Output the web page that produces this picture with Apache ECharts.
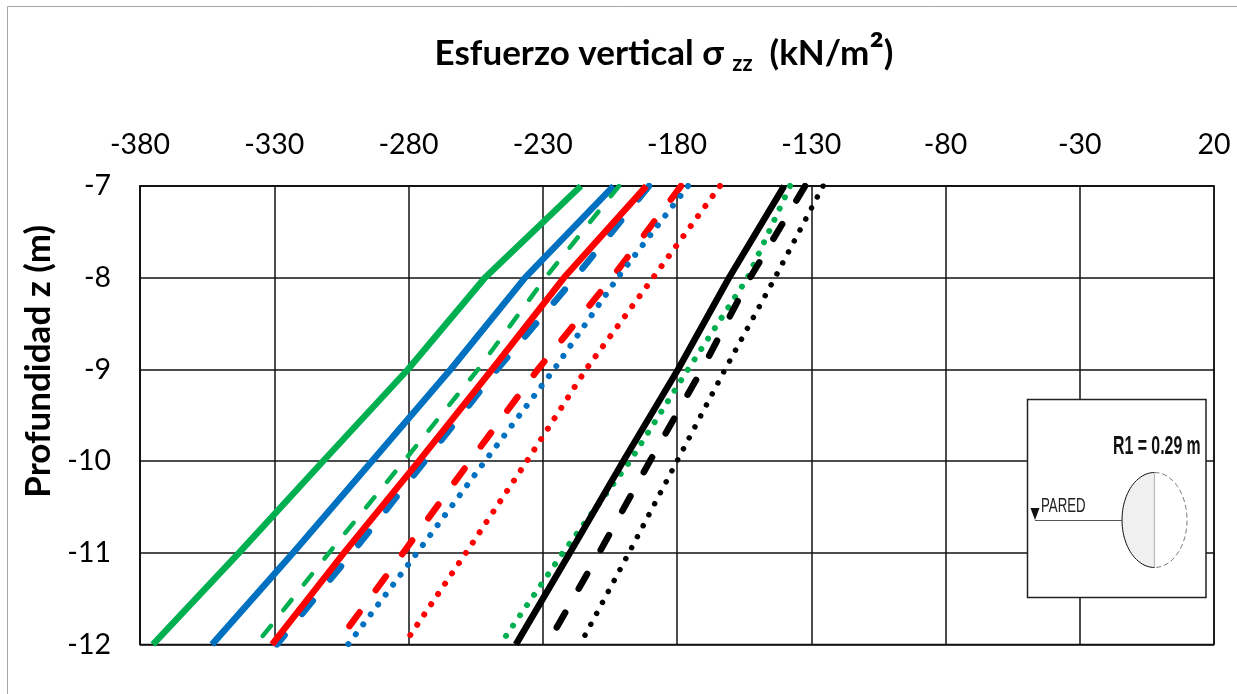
<!DOCTYPE html>
<html>
<head>
<meta charset="utf-8">
<style>html,body{margin:0;padding:0;background:#fff}#c{width:1237px;height:694px}</style>
<script src="https://cdn.jsdelivr.net/npm/echarts@6/dist/echarts.min.js"></script>
</head>
<body>
<div id="c"></div>
<script>
const depths = [-7, -8, -9, -10, -11, -12];
const xTicks = [-380, -330, -280, -230, -180, -130, -80, -30, 20];
const greenSolid = [-215.8, -251.5, -280.2, -311.8, -343.1, -375.2];
const blueSolid = [-203.6, -236.6, -264.3, -293.6, -323.0, -353.2];
const greenDash = [-201.6, -229.0, -254.1, -281.7, -309.6, -336.8];
const blueDash = [-190.4, -218.0, -247.0, -273.9, -301.0, -329.0];
const redSolid = [-191.4, -222.1, -248.9, -276.1, -304.0, -330.8];
const redDash = [-178.5, -204.2, -231.8, -257.1, -282.0, -307.0];
const blueDot = [-175.9, -202.1, -225.8, -251.5, -276.8, -302.5];
const redDot = [-164.0, -188.9, -213.9, -235.9, -258.6, -281.7];
const greenDot = [-137.9, -153.7, -175.9, -197.5, -222.5, -245.9];
const blackSolid = [-140.1, -160.6, -179.6, -200.0, -219.9, -240.0];
const blackDash = [-132.3, -152.8, -170.7, -190.1, -209.0, -228.4];
const blackDot = [-125.6, -143.5, -162.1, -180.0, -197.9, -216.1];

const FONT = 'Lato';
const GREEN = '#00B050', BLUE = '#0070C0', RED = '#FF0000', BLACK = '#000000';
const DASH = [17, 27.5], GDASH = [13, 20], DOT = [0.01, 12.39];

function line(name, vals, color, width, dash) {
  return {
    name, type: 'line', symbol: 'none', silent: true, animation: false,
    data: vals.map((v, i) => [v, depths[i]]),
    lineStyle: { color, width, type: dash || 'solid', cap: dash ? 'round' : 'butt', join: 'round' }
  };
}
function halfEllipse(cx, cy, rx, ry, from, to) {
  const p = [];
  for (let i = 0; i <= 48; i++) {
    const a = (from + (to - from) * i / 48) * Math.PI / 180;
    p.push([cx + rx * Math.cos(a), cy + ry * Math.sin(a)]);
  }
  return p;
}
const cx = 1154.5, cy = 520, rx = 32.5, ry = 47.5;

const chart = echarts.init(document.getElementById('c'), null, { renderer: 'canvas' });
chart.setOption({
  backgroundColor: '#fff',
  animation: false,
  title: {
    left: 659, top: 27, textAlign: 'center',
    text: 'Esfuerzo vertical σ {s|zz}  (kN/m{b|²})',
    textStyle: {
      fontFamily: FONT, fontWeight: 'bold', fontSize: 35, color: '#000',
      rich: {
        s: { fontFamily: FONT, fontWeight: 'bold', fontSize: 22, color: '#000', verticalAlign: 'bottom', padding: [10, 0, 0, 0] },
        b: { fontFamily: FONT, fontWeight: 'bold', fontSize: 43, color: '#000', verticalAlign: 'top', padding: [0, 0, 0, 0] }
      }
    }
  },
  grid: { left: 140, right: 23, top: 186, bottom: 49.5, show: true, borderColor: '#111', borderWidth: 1.5, backgroundColor: '#fff', outerBoundsMode: 'none' },
  xAxis: {
    type: 'value', position: 'top', min: -380, max: 20,
    axisLine: { show: true, onZero: false, lineStyle: { color: '#111', width: 1.5 } },
    axisTick: { show: false, customValues: xTicks },
    axisLabel: { customValues: xTicks, fontFamily: FONT, fontSize: 28.5, color: '#000', margin: 27, showMinLabel: true, showMaxLabel: true },
    splitLine: { show: true, lineStyle: { color: '#111', width: 1.5 } }
  },
  yAxis: {
    type: 'value', min: -12, max: -7, interval: 1,
    name: 'Profundidad z (m)', nameLocation: 'middle', nameGap: 65, nameRotate: 90,
    nameTextStyle: { fontFamily: FONT, fontWeight: 'bold', fontSize: 35, color: '#000', padding: [0, 0, 0, 108] },
    axisLine: { show: true, onZero: false, lineStyle: { color: '#111', width: 1.5 } },
    axisTick: { show: false },
    axisLabel: { fontFamily: FONT, fontSize: 28.5, color: '#000', margin: 29 },
    splitLine: { show: true, lineStyle: { color: '#111', width: 1.5 } }
  },
  series: [
    line('Verde continua', greenSolid, GREEN, 6.5),
    line('Azul continua', blueSolid, BLUE, 6.5),
    line('Verde discontinua', greenDash, GREEN, 4.5, GDASH),
    line('Azul discontinua', blueDash, BLUE, 6.5, DASH),
    line('Rojo continua', redSolid, RED, 6.5),
    line('Rojo discontinua', redDash, RED, 6.5, DASH),
    line('Azul punteada', blueDot, BLUE, 6, DOT),
    line('Rojo punteada', redDot, RED, 6, DOT),
    line('Verde punteada', greenDot, GREEN, 6, DOT),
    line('Negro continua', blackSolid, BLACK, 6.5),
    line('Negro discontinua', blackDash, BLACK, 6.5, DASH),
    line('Negro punteada', blackDot, BLACK, 5.5, DOT)
  ],
  graphic: { elements: [
    { type: 'line', z: 1, silent: true, shape: { x1: 7.5, y1: 6.5, x2: 1237, y2: 6.5 }, style: { stroke: '#a6a6a6', lineWidth: 1 } },
    { type: 'line', z: 1, silent: true, shape: { x1: 7.5, y1: 6.5, x2: 7.5, y2: 694 }, style: { stroke: '#a6a6a6', lineWidth: 1 } },
    { type: 'rect', z: 100, silent: true, shape: { x: 1027.5, y: 399.5, width: 178.5, height: 198 }, style: { fill: '#fff', stroke: '#222', lineWidth: 1.5 } },
    { type: 'polygon', z: 101, silent: true, shape: { points: halfEllipse(cx, cy, rx, ry, 90, 270) }, style: { fill: '#f0f0f0', stroke: '#111', lineWidth: 1 } },
    { type: 'polyline', z: 101, silent: true, shape: { points: halfEllipse(cx, cy, rx, ry, -90, 90) }, style: { fill: 'none', stroke: '#555', lineWidth: 0.8, lineDash: [5, 3] } },
    { type: 'line', z: 102, silent: true, shape: { x1: cx, y1: cy - ry, x2: cx, y2: cy + ry }, style: { stroke: '#bbb', lineWidth: 1.2 } },
    { type: 'line', z: 101, silent: true, shape: { x1: 1035, y1: 520.5, x2: 1122, y2: 520.5 }, style: { stroke: '#555', lineWidth: 1 } },
    { type: 'polygon', z: 101, silent: true, shape: { points: [[1030.5, 508], [1039.5, 508], [1035, 520]] }, style: { fill: '#111' } },
    { type: 'text', z: 103, silent: true, x: 1041, y: 496, scaleX: 0.63, style: { text: 'PARED', fill: '#222', font: '21px "Liberation Sans"' } },
    { type: 'text', z: 103, silent: true, x: 1113, y: 434, scaleX: 0.61, style: { text: 'R1 = 0.29 m', fill: '#111', font: 'bold 26px "Liberation Sans"' } }
  ] }
});
</script>
</body>
</html>
